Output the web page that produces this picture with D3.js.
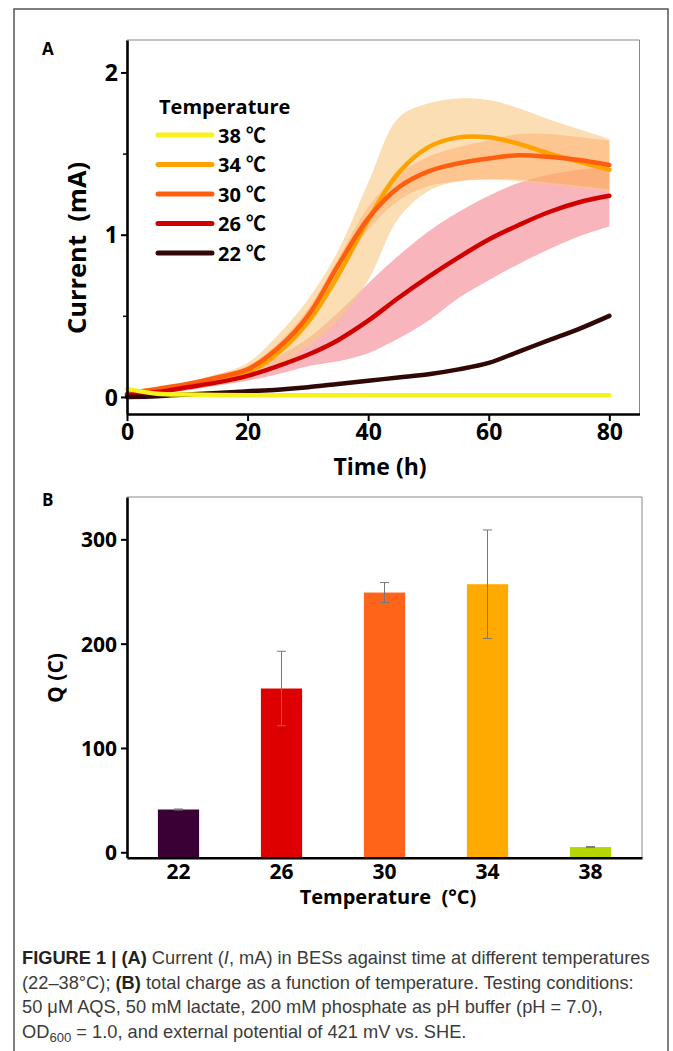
<!DOCTYPE html>
<html><head><meta charset="utf-8">
<script src="https://cdn.jsdelivr.net/npm/d3@7/dist/d3.min.js"></script>
<style>
html,body{margin:0;padding:0;background:#fff;}
svg{display:block;}
</style>
</head><body>
<svg id="fig" width="673" height="1051"></svg>
<script>
// ---------- DATA: panel A ----------
const timeH = [0,5,10,15,20,25,30,35,40,45,50,55,60,65,70,75,80];
const cur38 = [0.05,0.02,0.015,0.012,0.01,0.01,0.01,0.01,0.01,0.01,0.01,0.01,0.01,0.01,0.01,0.01,0.01];
const cur34 = [0.02,0.04,0.07,0.10,0.15,0.27,0.46,0.75,1.09,1.38,1.54,1.60,1.60,1.56,1.50,1.45,1.40];
const cur30 = [0.02,0.05,0.08,0.12,0.17,0.30,0.50,0.81,1.10,1.29,1.39,1.44,1.47,1.49,1.48,1.46,1.43];
const cur26 = [0.01,0.03,0.06,0.09,0.13,0.19,0.26,0.35,0.47,0.61,0.74,0.86,0.97,1.06,1.14,1.20,1.24];
const cur22 = [0.0,0.005,0.015,0.025,0.035,0.045,0.06,0.08,0.10,0.12,0.14,0.17,0.21,0.28,0.35,0.42,0.50];
const lo34 = [0.01,0.03,0.05,0.07,0.11,0.19,0.31,0.47,0.72,1.10,1.27,1.33,1.34,1.33,1.31,1.29,1.27];
const hi34 = [0.03,0.05,0.09,0.14,0.21,0.38,0.60,0.90,1.32,1.72,1.81,1.84,1.83,1.78,1.71,1.65,1.59];
const lo30 = [0.01,0.04,0.07,0.10,0.15,0.27,0.46,0.75,1.03,1.21,1.30,1.33,1.34,1.34,1.32,1.30,1.28];
const hi30 = [0.03,0.06,0.09,0.14,0.19,0.33,0.54,0.85,1.17,1.37,1.48,1.54,1.58,1.62,1.62,1.60,1.58];
const lo26 = [0.0,0.02,0.04,0.07,0.10,0.14,0.19,0.22,0.27,0.36,0.47,0.61,0.72,0.82,0.91,0.99,1.05];
const hi26 = [0.02,0.04,0.08,0.12,0.17,0.25,0.36,0.52,0.70,0.87,1.02,1.14,1.24,1.32,1.37,1.40,1.42];
const legendLabels = ["38 ℃","34 ℃","30 ℃","26 ℃","22 ℃"];
const xTicksA = [0,20,40,60,80];
const yTicksA = [0,1,2];
const yMinorA = [0.5,1.5];

// ---------- DATA: panel B ----------
const tempCats = ["22","26","30","34","38"];
const charge = [41,157,249,257,5];
const chargeErr = [0.5,35.7,9.6,52,0.5];
const yTicksB = [0,100,200,300];

const caption = [
  [["FIGURE 1 | (A)",true],[" Current (",false],["I",false,"italic"],[", mA) in BESs against time at different temperatures",false]],
  [["(22–38°C); ",false],["(B)",true],[" total charge as a function of temperature. Testing conditions:",false]],
  [["50 μM AQS, 50 mM lactate, 200 mM phosphate as pH buffer (pH = 7.0),",false]],
  [["OD",false],["600",false,"sub"],[" = 1.0, and external potential of 421 mV vs. SHE.",false,"unsub"]]
];

// ---------- DRAW ----------
const svg = d3.select("#fig");
const F = "'Open Sans','Noto Sans CJK SC',sans-serif";

svg.append("rect").attr("x",14).attr("y",9).attr("width",654).attr("height",1060)
  .attr("fill","none").attr("stroke","#555").attr("stroke-width",1.5);

// ===== Panel A =====
const xA = d3.scaleLinear().domain([0,85]).range([127,639.5]);
const yA = d3.scaleLinear().domain([-0.105,2.2]).range([414,40]);
const gA = svg.append("g");
const crv = d3.curveCatmullRom.alpha(0.5);

const area = (lo,hi)=> d3.area().curve(crv)
   .x((d,i)=>xA(timeH[i])).y0((d,i)=>yA(lo[i])).y1((d,i)=>yA(hi[i]))(timeH);
gA.append("path").attr("d",area(lo26,hi26)).attr("fill","rgba(242,110,122,0.5)");
gA.append("path").attr("d",area(lo34,hi34)).attr("fill","rgba(250,200,130,0.6)");
gA.append("path").attr("d",area(lo30,hi30)).attr("fill","rgba(255,140,60,0.3)");

const line = vals => d3.line().curve(crv).x((d,i)=>xA(timeH[i])).y(d=>yA(d))(vals);
const series = [
  {v:cur34,c:"#ffa200"},
  {v:cur30,c:"#ff5e0e"},
  {v:cur26,c:"#d00000"},
  {v:cur22,c:"#300808"},
  {v:cur38,c:"#f7f31a"}
];
series.forEach(s=>{
  gA.append("path").attr("d",line(s.v)).attr("fill","none").attr("stroke",s.c)
    .attr("stroke-width",4.5).attr("stroke-linecap","round").attr("stroke-linejoin","round");
});

// frame
gA.append("line").attr("x1",127).attr("x2",639.5).attr("y1",40).attr("y2",40).attr("stroke","#888").attr("stroke-width",1);
gA.append("line").attr("x1",639.5).attr("x2",639.5).attr("y1",40).attr("y2",414).attr("stroke","#888").attr("stroke-width",1);

const axA_x = gA.append("g").attr("transform","translate(0,414)")
  .call(d3.axisBottom(xA).tickValues(xTicksA).tickFormat(d3.format("d")).tickSize(7).tickPadding(3).tickSizeOuter(0));
const axA_y = gA.append("g").attr("transform","translate(127,0)")
  .call(d3.axisLeft(yA).tickValues(yTicksA).tickFormat(d3.format("d")).tickSize(6).tickPadding(3).tickSizeOuter(0));
gA.append("g").attr("transform","translate(127,0)")
  .call(d3.axisLeft(yA).tickValues(yMinorA).tickSize(4).tickFormat("").tickSizeOuter(0))
  .call(g=>g.select(".domain").remove())
  .selectAll("line").attr("stroke","#000").attr("stroke-width",1.5);
[axA_x,axA_y].forEach(a=>{
  a.select(".domain").attr("stroke","#000").attr("stroke-width",2.6);
  a.selectAll(".tick line").attr("stroke","#000").attr("stroke-width",2);
  a.selectAll("text").attr("font-family",F).attr("font-weight",700).attr("font-size",23).attr("fill","#000");
});
axA_y.selectAll("text").attr("dy","0.36em");

gA.append("text").attr("x",380).attr("y",475).attr("text-anchor","middle")
  .attr("font-family",F).attr("font-weight",700).attr("font-size",23).text("Time (h)");
gA.append("text").attr("transform","translate(86,248) rotate(-90)").attr("text-anchor","middle")
  .attr("font-family",F).attr("font-weight",700).attr("font-size",25.5).attr("xml:space","preserve").text("Current  (mA)");
svg.append("text").attr("x",42).attr("y",55).attr("font-family",F).attr("font-weight",700).attr("font-size",17).text("A");

// legend
const leg = gA.append("g");
leg.append("text").attr("x",159).attr("y",114).attr("font-family",F).attr("font-weight",700).attr("font-size",20).text("Temperature");
const legColors = ["#f7f31a","#ffa200","#ff5e0e","#d00000","#300808"];
const legY = d3.scalePoint().domain(legendLabels).range([135,253]);
legendLabels.forEach((lab,i)=>{
  leg.append("line").attr("x1",158).attr("x2",212).attr("y1",legY(lab)).attr("y2",legY(lab))
    .attr("stroke",legColors[i]).attr("stroke-width",5).attr("stroke-linecap","round");
  leg.append("text").attr("x",218).attr("y",legY(lab)+7.5).attr("font-family",F).attr("font-weight",700)
    .attr("font-size",20).text(lab);
});

// ===== Panel B =====
const xB = d3.scaleBand().domain(tempCats).range([127,642]).paddingInner(0.6).paddingOuter(0.3);
const yB = d3.scaleLinear().domain([-5.2,340.6]).range([857.7,497]);
const gB = svg.append("g");
const barColors = ["#3a0035","#de0000","#ff6419","#ffaa00","#b5d600"];
gB.selectAll("rect.bar").data(charge).join("rect").attr("class","bar")
  .attr("x",(d,i)=>xB(tempCats[i])).attr("width",xB.bandwidth())
  .attr("y",d=>yB(d)).attr("height",d=>yB.range()[0]-yB(d)).attr("fill",(d,i)=>barColors[i]);
charge.forEach((d,i)=>{
  const cx = xB(tempCats[i])+xB.bandwidth()/2;
  const g = gB.append("g").attr("stroke","#777").attr("stroke-width",1);
  g.append("line").attr("x1",cx).attr("x2",cx).attr("y1",yB(d+chargeErr[i])).attr("y2",yB(d-chargeErr[i]));
  [d+chargeErr[i], d-chargeErr[i]].forEach(v=>{
    g.append("line").attr("x1",cx-4.5).attr("x2",cx+4.5).attr("y1",yB(v)).attr("y2",yB(v));
  });
});
gB.append("line").attr("x1",127).attr("x2",642).attr("y1",497).attr("y2",497).attr("stroke","#888").attr("stroke-width",1);
gB.append("line").attr("x1",642).attr("x2",642).attr("y1",497).attr("y2",857.7).attr("stroke","#888").attr("stroke-width",1);

const axB_x = gB.append("g").attr("transform","translate(0,857.7)")
  .call(d3.axisBottom(xB).tickSize(0).tickPadding(6).tickSizeOuter(0));
const axB_y = gB.append("g").attr("transform","translate(127,0)")
  .call(d3.axisLeft(yB).tickValues(yTicksB).tickSize(6).tickPadding(4).tickSizeOuter(0));
[axB_x,axB_y].forEach(a=>{
  a.select(".domain").attr("stroke","#000").attr("stroke-width",2.6);
  a.selectAll(".tick line").attr("stroke","#000").attr("stroke-width",2);
  a.selectAll("text").attr("font-family",F).attr("font-weight",700).attr("font-size",21).attr("fill","#000");
});
axB_y.selectAll("text").attr("dy","0.36em");
gB.append("text").attr("x",388).attr("y",904).attr("text-anchor","middle")
  .attr("font-family",F).attr("font-weight",700).attr("font-size",20).attr("xml:space","preserve")
  .text("Temperature  (°C)");
gB.append("text").attr("transform","translate(63,678) rotate(-90)").attr("text-anchor","middle")
  .attr("font-family",F).attr("font-weight",700).attr("font-size",21).text("Q (C)");
svg.append("text").attr("x",42).attr("y",506).attr("font-family",F).attr("font-weight",700).attr("font-size",17).text("B");

// ===== Caption =====
const CF = "'Liberation Sans',Arial,sans-serif";
const capBase = [964,989,1013,1038];
const capG = svg.append("g").attr("fill","#3b3b3b").attr("font-family",CF);
const texts = caption.map((parts,li)=>{
  const t = capG.append("text").attr("x",22).attr("y",capBase[li]).attr("xml:space","preserve").attr("font-size",16);
  parts.forEach(p=>{
    const ts = t.append("tspan").text(p[0]);
    if(p[1]) ts.attr("font-weight",700).attr("fill","#222");
    if(p[2]==="italic") ts.attr("font-style","italic");
    if(p[2]==="sub") ts.attr("font-size","0.72em").attr("dy",4);
    if(p[2]==="unsub") ts.attr("dy",-4);
  });
  return t;
});
const w0 = texts[0].node().getComputedTextLength();
const fs = 16*628/w0;
texts.forEach(t=>t.attr("font-size",fs));
</script>
</body></html>
